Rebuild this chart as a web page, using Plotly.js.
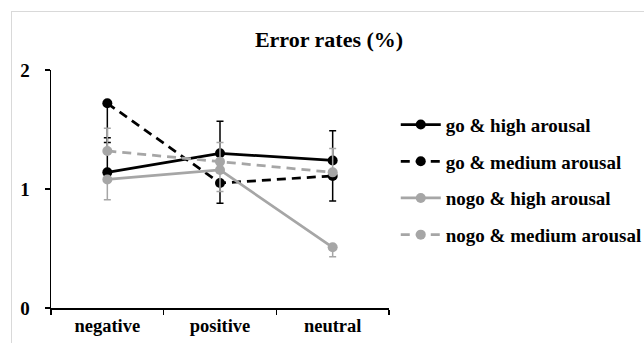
<!DOCTYPE html>
<html>
<head>
<meta charset="utf-8">
<script src="https://cdn.plot.ly/plotly-3.0.1.min.js"></script>
<style>
  html, body { margin: 0; padding: 0; background: #fff; overflow: hidden; }
  #wrap { position: relative; width: 644px; height: 343px; overflow: hidden; }
  #frame { position: absolute; left: 11px; top: 11px; right: -5px; bottom: -5px; border: 1px solid #d9d9d9; }
  #chart { position: absolute; left: 0; top: 0; width: 680px; height: 343px; }
</style>
</head>
<body>
<div id="wrap">
  <div id="frame"></div>
  <div id="chart"></div>
</div>
<script>
const categories = ["negative", "positive", "neutral"];
const seriesNames = ["go & high arousal", "go & medium arousal", "nogo & high arousal", "nogo & medium arousal"];
const goHigh = [1.14, 1.30, 1.24];
const goHighErrPlus = [0.29, 0.27, 0.25];
const goMedium = [1.72, 1.05, 1.11];
const goMediumErrMinus = [0.33, 0.17, 0.21];
const nogoHigh = [1.08, 1.16, 0.51];
const nogoHighErrMinus = [0.17, 0.18, 0.08];
const nogoMedium = [1.32, 1.23, 1.14];
const nogoMediumErrPlus = [0.19, 0.16, 0.20];
const yTicks = [0, 1, 2];

const FONT = '"Liberation Serif", "Times New Roman", serif';
const BLACK = '#000000';
const GRAY = '#a6a6a6';
const zeros = categories.map(() => 0);

function trace(name, y, plus, minus, color, dash, group) {
  return {
    type: 'scatter', mode: 'lines+markers', x: categories, y: y, name: name,
    legendgroup: group,
    line: { color: color, width: 2.75, dash: dash },
    marker: { color: color, size: 10, symbol: 'circle' },
    error_y: { type: 'data', symmetric: false, array: plus, arrayminus: minus,
               color: color, thickness: 1.5, width: 3.5 },
    cliponaxis: false
  };
}

const data = [
  trace(seriesNames[0], goHigh, goHighErrPlus, zeros, BLACK, 'solid', 'a'),
  trace(seriesNames[1], goMedium, zeros, goMediumErrMinus, BLACK, '9px,6px', 'b'),
  trace(seriesNames[2], nogoHigh, zeros, nogoHighErrMinus, GRAY, 'solid', 'c'),
  trace(seriesNames[3], nogoMedium, nogoMediumErrPlus, zeros, GRAY, '9px,6px', 'd')
];

const layout = {
  width: 680, height: 343,
  paper_bgcolor: 'rgba(0,0,0,0)', plot_bgcolor: 'rgba(0,0,0,0)',
  margin: { l: 51, r: 291, t: 70, b: 35 },
  font: { family: FONT, size: 19, color: '#000' },
  title: { text: '<b>Error rates (%)</b>', x: 329 / 680, xref: 'container', xanchor: 'center',
           y: 1 - 39 / 343, yref: 'container', yanchor: 'middle',
           font: { family: FONT, size: 22, color: '#000' } },
  xaxis: {
    type: 'category', range: [-0.5, 2.5], showgrid: false, zeroline: false,
    showline: true, linecolor: '#000', linewidth: 1.5,
    ticks: 'outside', tickson: 'boundaries', ticklen: 5, tickcolor: '#000', tickwidth: 1.5,
    tickfont: { family: FONT, size: 18.5, color: '#000', weight: 'bold' }
  },
  yaxis: {
    range: [0, 2], tickvals: yTicks, ticktext: yTicks.map(String),
    showgrid: false, zeroline: false,
    showline: true, linecolor: '#000', linewidth: 1.5,
    ticks: 'outside', ticklen: 5, tickcolor: '#000', tickwidth: 1.5,
    ticklabelstandoff: 11,
    tickfont: { family: FONT, size: 19, color: '#000', weight: 'bold' }
  },
  showlegend: true,
  legend: {
    x: 1.02, xanchor: 'left', y: 0.85, yanchor: 'top',
    tracegroupgap: 9, itemwidth: 40,
    font: { family: FONT, size: 19, color: '#000', weight: 'bold' },
    bgcolor: 'rgba(0,0,0,0)'
  }
};

Plotly.newPlot('chart', data, layout, { displayModeBar: false, staticPlot: true });
</script>
</body>
</html>
